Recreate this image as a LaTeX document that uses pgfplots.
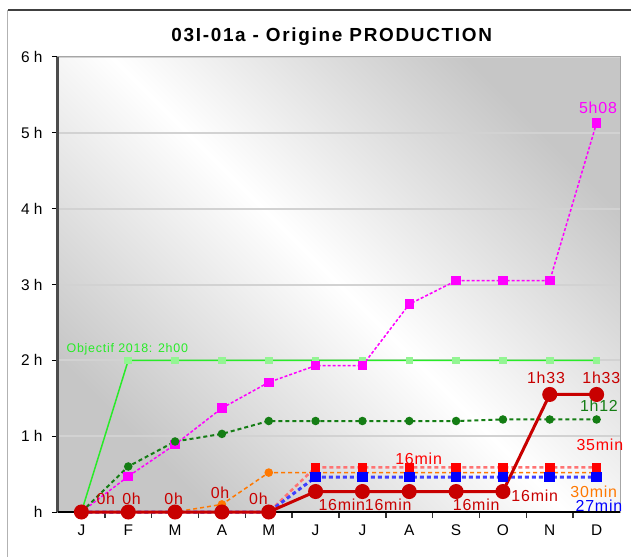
\documentclass[border=0pt]{standalone}
\usepackage{pgfplots}
\pgfplotsset{compat=1.18}
\usepackage{fontspec}
\setmainfont{Liberation Sans}
\definecolor{limeg}{RGB}{40,235,40}
\definecolor{magen}{RGB}{255,0,255}
\definecolor{dgreen}{RGB}{20,125,20}
\definecolor{orng}{RGB}{255,120,0}
\definecolor{brred}{RGB}{255,0,0}
\definecolor{bblue}{RGB}{0,0,255}
\definecolor{dred}{RGB}{200,0,0}
\begin{document}
\begin{tikzpicture}
\useasboundingbox (-58bp,-45bp) rectangle (573bp,512bp);
\draw[gray!60, line width=1bp] (-50bp,-45bp) -- (-50bp,502bp);
\draw[black!75, line width=2bp] (-50bp,502bp) -- (573bp,502bp);
\begin{axis}[
  at={(0,0)}, anchor=south west, scale only axis,
  width=562bp, height=455bp,
  xmin=-0.5, xmax=11.5, ymin=0, ymax=6,
  axis background/.style={shade, top color=gray!45, bottom color=gray!45, middle color=white, shading angle=-45},
  axis line style={draw=gray!70, line width=1bp},
  ymajorgrids, grid style={gray!35, line width=2bp},
  ytick={0,1,2,3,4,5,6}, yticklabels={h,1 h,2 h,3 h,4 h,5 h,6 h},
  xtick={0,...,11}, xticklabels={J,F,M,A,M,J,J,A,S,O,N,D},
  minor xtick={0.5,1.5,...,10.5},
  tick align=outside, tick pos=left,
  major tick length=6bp, minor tick length=6bp,
  major x tick style={draw=none},
  minor x tick style={black!80, line width=1.5bp},
  y tick style={black, line width=1bp},
  ticklabel style={font=\fontsize{15.5}{15.5}\selectfont},
  yticklabel style={xshift=-6bp},
  xticklabel style={yshift=-3bp},
  clip=false,
]
\draw[black!70, line width=3bp] (rel axis cs:0,0) -- (rel axis cs:0,1);
\draw[black, line width=2bp] (rel axis cs:0,0) -- (rel axis cs:1,0);

\addplot[limeg, line width=1.5bp, mark=square*, mark size=3bp, mark options={limeg!50}]
 coordinates {(0,0)(1,2)(2,2)(3,2)(4,2)(5,2)(6,2)(7,2)(8,2)(9,2)(10,2)(11,2)};
\addplot[magen, line width=1.5bp, dash pattern=on 3bp off 2bp, mark=square*, mark size=4bp, mark options={solid, magen}]
 coordinates {(0,0)(1,0.47)(2,0.89)(3,1.37)(4,1.71)(5,1.93)(6,1.93)(7,2.74)(8,3.05)(9,3.05)(10,3.05)(11,5.13)};
\addplot[dgreen, line width=2bp, dash pattern=on 4bp off 3bp, mark=*, mark size=3.2bp, mark options={solid, dgreen}]
 coordinates {(0,0)(1,0.6)(2,0.93)(3,1.03)(4,1.2)(5,1.2)(6,1.2)(7,1.2)(8,1.2)(9,1.22)(10,1.22)(11,1.22)};
\addplot[orng, line width=1.5bp, dash pattern=on 4bp off 3bp, mark=*, mark size=3.5bp, mark options={solid, orng}]
 coordinates {(0,0)(1,0)(2,0)(3,0.1)(4,0.52)(5,0.52)(6,0.52)(7,0.52)(8,0.52)(9,0.52)(10,0.52)(11,0.52)};
\addplot[brred!55, line width=2.5bp, dash pattern=on 4bp off 3bp, mark=square*, mark size=3.5bp, mark options={solid, brred}]
 coordinates {(0,0)(1,0)(2,0)(3,0)(4,0)(5,0.59)(6,0.59)(7,0.59)(8,0.59)(9,0.59)(10,0.59)(11,0.59)};
\addplot[bblue!75, line width=3bp, dash pattern=on 4bp off 3bp, mark=square*, mark size=3.8bp, mark options={solid, bblue}]
 coordinates {(0,0)(1,0)(2,0)(3,0)(4,0)(5,0.46)(6,0.46)(7,0.46)(8,0.46)(9,0.46)(10,0.46)(11,0.46)};
\addplot[dred, line width=3bp, mark=*, mark size=6bp, mark options={dred}]
 coordinates {(0,0)(1,0)(2,0)(3,0)(4,0)(5,0.27)(6,0.27)(7,0.27)(8,0.27)(9,0.27)(10,1.55)(11,1.55)};

\node[font=\bfseries\fontsize{19}{19}\selectfont\addfontfeatures{LetterSpace=9}] at (rel axis cs:0.487,1) [yshift=20bp] {03I-01a - Origine PRODUCTION};
\node[limeg, font=\fontsize{12.5}{12.5}\selectfont\addfontfeatures{LetterSpace=6}, anchor=west, inner sep=0pt] at (axis cs:-0.32,2.14) {Objectif 2018: 2h00};
\tikzset{lab/.style={font=\fontsize{16}{16}\selectfont\addfontfeatures{LetterSpace=5}, inner sep=0pt}}
\node[lab, dred] at (axis cs:0.52,0.18) {0h};
\node[lab, dred] at (axis cs:1.07,0.18) {0h};
\node[lab, dred] at (axis cs:1.97,0.18) {0h};
\node[lab, dred] at (axis cs:2.96,0.25) {0h};
\node[lab, dred] at (axis cs:3.78,0.18) {0h};
\node[lab, dred] at (axis cs:5.56,0.1) {16min};
\node[lab, dred] at (axis cs:6.55,0.1) {16min};
\node[lab, dred] at (axis cs:8.43,0.1) {16min};
\node[lab, dred] at (axis cs:9.68,0.22) {16min};
\node[lab, brred] at (axis cs:7.2,0.7) {16min};
\node[lab, brred] at (axis cs:11.07,0.88) {35min};
\node[lab, dred] at (axis cs:9.92,1.77) {1h33};
\node[lab, dred] at (axis cs:11.1,1.77) {1h33};
\node[lab, dgreen] at (axis cs:11.05,1.4) {1h12};
\node[lab, orng] at (axis cs:10.94,0.27) {30min};
\node[lab, bblue] at (axis cs:11.05,0.08) {27min};
\node[lab, magen] at (axis cs:11.03,5.33) {5h08};
\end{axis}
\end{tikzpicture}
\end{document}
